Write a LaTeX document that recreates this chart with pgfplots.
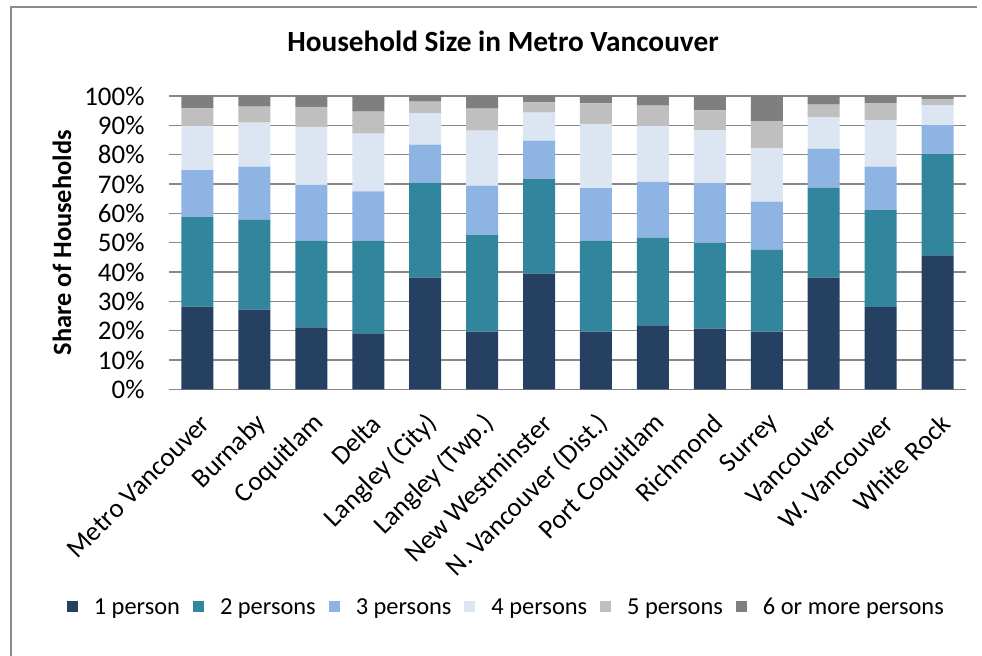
\documentclass[border=0pt]{standalone}
\usepackage{pgfplots}
\usepackage{pgfplotstable}
\pgfplotsset{compat=1.18}
\usepackage{fontspec}
\setmainfont{Carlito}
\definecolor{c1}{HTML}{254061}
\definecolor{c2}{HTML}{31859C}
\definecolor{c3}{HTML}{8EB4E3}
\definecolor{c4}{HTML}{DCE6F2}
\definecolor{c5}{HTML}{BFBFBF}
\definecolor{c6}{HTML}{7F7F7F}
\definecolor{gridc}{HTML}{878787}
\definecolor{framec}{HTML}{8C8C8C}
\pgfplotstableread{
x p1 p2 p3 p4 p5 p6
0 28.2 30.5 16.0 15.0 6.1 4.2
1 27.2 30.6 18.1 15.0 5.5 3.6
2 21.1 29.6 19.0 19.8 6.8 3.7
3 19.1 31.6 16.8 19.7 7.5 5.3
4 38.1 32.4 12.9 10.7 4.0 1.9
5 19.7 32.9 16.8 18.8 7.5 4.3
6 39.4 32.3 13.1 9.5 3.5 2.2
7 19.7 31.0 17.9 21.9 7.0 2.5
8 21.8 29.9 19.0 19.2 6.8 3.3
9 20.7 29.2 20.4 18.0 6.8 4.9
10 19.7 27.9 16.4 18.3 9.1 8.6
11 38.1 30.7 13.2 10.8 4.3 2.9
12 28.0 33.1 14.8 15.8 5.9 2.4
13 45.7 34.5 9.9 6.7 2.2 1.0
}\datatable
\begin{document}
\begin{tikzpicture}[x=1bp,y=1bp]
\useasboundingbox (-169,-266.7) rectangle (813,389.3);
\draw[framec, line width=1.3bp] (-158,-270) -- (-158,382.3) -- (808,382.3);
\begin{axis}[
  at={(0,0)}, anchor=south west,
  scale only axis, width=797bp, height=293.3bp,
  ybar stacked, bar width=0.562,
  xmin=-0.5, xmax=13.5, ymin=0, ymax=100,
  xtick={0,...,13},
  xticklabels={Metro Vancouver,Burnaby,Coquitlam,Delta,Langley (City),Langley (Twp.),New Westminster,N. Vancouver (Dist.),Port Coquitlam,Richmond,Surrey,Vancouver,W. Vancouver,White Rock},
  ytick={0,10,...,100},
  yticklabels={0\%,10\%,20\%,30\%,40\%,50\%,60\%,70\%,80\%,90\%,100\%},
  ymajorgrids, grid style={gridc, line width=1.3bp},
  axis line style={draw=none},
  major tick length=0pt,
  xtick style={draw=none}, ytick style={draw=none},
  yticklabel style={font=\fontsize{27}{32}\selectfont, text=black, anchor=east, xshift=-21bp},
  xticklabel style={font=\fontsize{27}{32}\selectfont, text=black, rotate=45, anchor=east, xshift=-12bp, yshift=-27bp},
  ylabel={Share of Households},
  ylabel style={font=\fontsize{26.5}{31}\selectfont\bfseries, at={(axis description cs:-0.1343,0.5)}, anchor=center},
  title={Household Size in Metro Vancouver},
  title style={font=\fontsize{29.4}{34}\selectfont\bfseries, at={(axis description cs:0.419,1.166)}, anchor=center},
  legend columns=6,
  legend style={draw=none, fill=none, at={(axis description cs:0.422,-0.742)}, anchor=center,
    font=\fontsize{24.5}{29}\selectfont, nodes={inner sep=0pt},
    /tikz/every odd column/.append style={column sep=16bp},
    /tikz/every even column/.append style={column sep=13bp}},
  legend image code/.code={\fill[#1] (0bp,-5.5bp) rectangle (11bp,5.5bp);},
]
\addplot[fill=c1, draw=none] table[x=x,y=p1]{\datatable};
\addplot[fill=c2, draw=none] table[x=x,y=p2]{\datatable};
\addplot[fill=c3, draw=none] table[x=x,y=p3]{\datatable};
\addplot[fill=c4, draw=none] table[x=x,y=p4]{\datatable};
\addplot[fill=c5, draw=none] table[x=x,y=p5]{\datatable};
\addplot[fill=c6, draw=none] table[x=x,y=p6]{\datatable};
\legend{1 person,2 persons,3 persons,4 persons,5 persons,6 or more persons}
\end{axis}
\end{tikzpicture}
\end{document}
